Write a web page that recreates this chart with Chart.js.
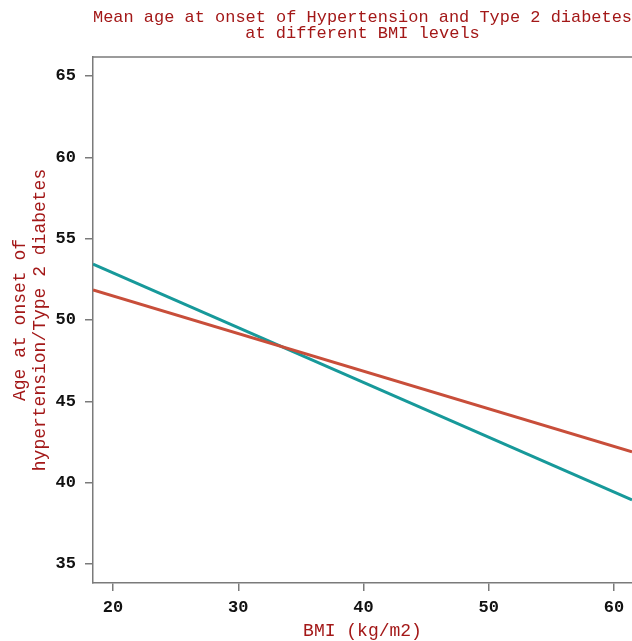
<!DOCTYPE html>
<html>
<head>
<meta charset="utf-8">
<script src="https://cdn.jsdelivr.net/npm/chart.js@4.4.1/dist/chart.umd.min.js"></script>
<style>
  html, body { margin: 0; padding: 0; background: #fff; }
</style>
</head>
<body>
<canvas id="chart" width="632" height="641"></canvas>
<script>
// fitted lines at the left and right edge of the plot
const bmi = [18.4, 61.44];
const hypertension = [51.85, 41.89];
const diabetes = [53.44, 38.94];
const yTicks = [35, 40, 45, 50, 55, 60, 65];
const xTicks = [20, 30, 40, 50, 60];

const darkRed = '#a31818';
const axisGrey = '#7a7a7a';
const mono = "'Courier New', 'Liberation Mono', monospace";

function points(ys) {
  return bmi.map((x, i) => ({ x: x, y: ys[i] }));
}

// top edge of the plot box
const boxTop = {
  id: 'boxTop',
  afterDraw(chart) {
    const { ctx, chartArea } = chart;
    ctx.save();
    ctx.strokeStyle = axisGrey;
    ctx.lineWidth = 1.5;
    ctx.beginPath();
    ctx.moveTo(chartArea.left, chartArea.top);
    ctx.lineTo(chartArea.right, chartArea.top);
    ctx.stroke();
    ctx.restore();
  }
};

new Chart(document.getElementById('chart').getContext('2d'), {
  type: 'line',
  data: {
    datasets: [
      {
        label: 'Hypertension',
        data: points(hypertension),
        borderColor: '#c84e3a',
        borderWidth: 3,
        pointRadius: 0,
        fill: false
      },
      {
        label: 'Type 2 diabetes',
        data: points(diabetes),
        borderColor: '#17999a',
        borderWidth: 3,
        pointRadius: 0,
        fill: false
      }
    ]
  },
  options: {
    responsive: false,
    animation: false,
    layout: { padding: 0 },
    plugins: {
      legend: { display: false },
      tooltip: { enabled: false },
      title: {
        display: true,
        fullSize: false,
        text: ['Mean age at onset of Hypertension and Type 2 diabetes', 'at different BMI levels'],
        color: darkRed,
        font: { family: mono, size: 17, weight: 'normal', lineHeight: '16px' },
        padding: { top: 9, bottom: 16 }
      }
    },
    scales: {
      x: {
        type: 'linear',
        min: bmi[0],
        max: bmi[1],
        afterBuildTicks(scale) { scale.ticks = xTicks.map(v => ({ value: v })); },
        afterFit(scale) { scale.height = 58; },
        grid: { drawOnChartArea: false, tickLength: 8, color: axisGrey, lineWidth: 1.5 },
        border: { color: axisGrey, width: 1.5 },
        ticks: {
          color: '#111',
          padding: 7,
          maxRotation: 0,
          font: { family: mono, size: 17, weight: 'bold' }
        },
        title: {
          display: true,
          text: 'BMI (kg/m2)',
          color: darkRed,
          font: { family: mono, size: 18, lineHeight: '20px' },
          padding: { top: 0, bottom: 0 }
        }
      },
      y: {
        min: 33.83,
        max: 66.17,
        afterBuildTicks(scale) { scale.ticks = yTicks.map(v => ({ value: v })); },
        afterFit(scale) { scale.width = 93; },
        grid: { drawOnChartArea: false, tickLength: 8, color: axisGrey, lineWidth: 1.5 },
        border: { color: axisGrey, width: 1.5 },
        ticks: {
          color: '#111',
          padding: 9,
          font: { family: mono, size: 17, weight: 'bold' }
        },
        title: {
          display: true,
          text: ['Age at onset of', 'hypertension/Type 2 diabetes'],
          color: darkRed,
          font: { family: mono, size: 18, lineHeight: '20px' },
          padding: { top: 10, bottom: 0 }
        }
      }
    }
  },
  plugins: [boxTop]
});
</script>
</body>
</html>
